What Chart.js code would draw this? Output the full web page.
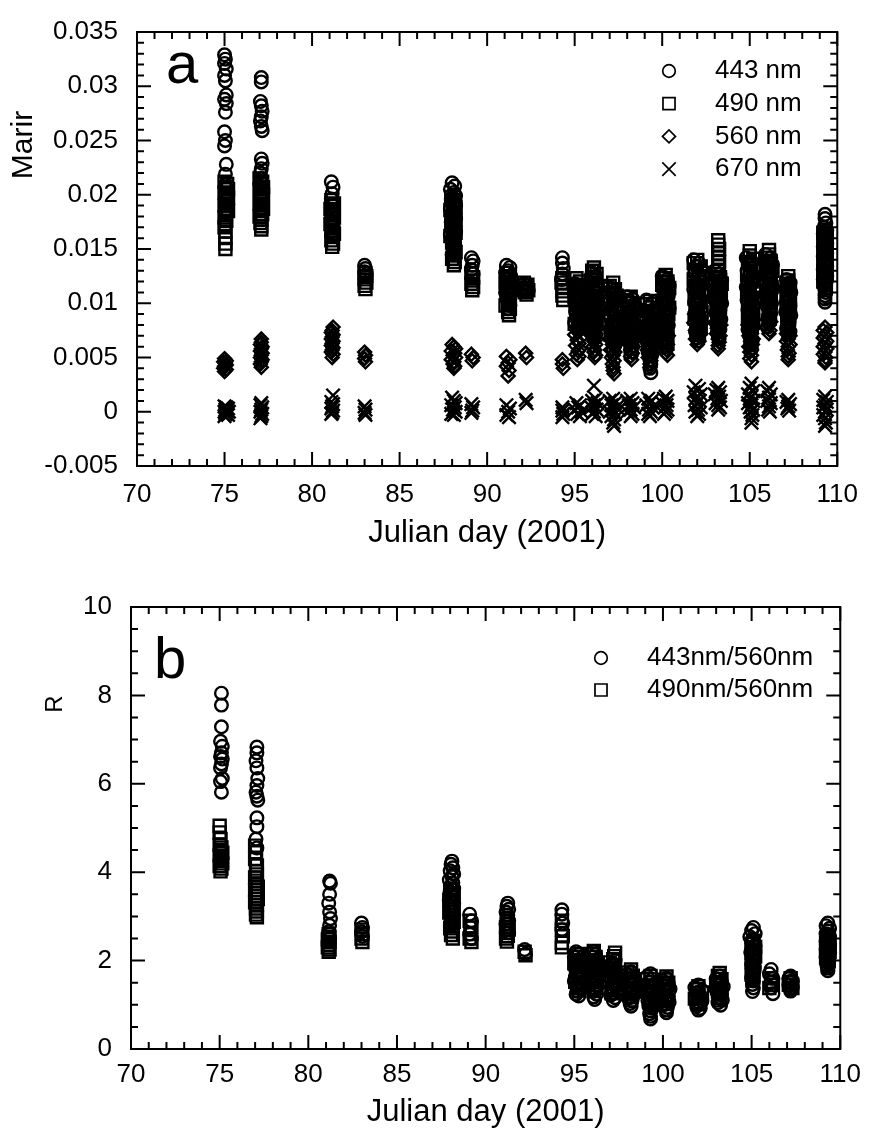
<!DOCTYPE html>
<html>
<head>
<meta charset="utf-8">
<title>Julian day scatter</title>
<script src="https://cdn.jsdelivr.net/npm/chart.js@4.4.1/dist/chart.umd.min.js"></script>
<style>
  html, body { margin: 0; padding: 0; background: #fff; }
  canvas { display: block; }
</style>
</head>
<body>
<canvas id="chartA" width="874" height="575"></canvas>
<canvas id="chartB" width="874" height="558"></canvas>
<script>
/* ================================
   Data
   ================================ */
const xTicks = [70, 75, 80, 85, 90, 95, 100, 105, 110];
const xTickLabels = ["70", "75", "80", "85", "90", "95", "100", "105", "110"];
const aYTicks = [-0.005, 0, 0.005, 0.01, 0.015, 0.02, 0.025, 0.03, 0.035];
const aYLabels = ["-0.005", "0", "0.005", "0.01", "0.015", "0.02", "0.025", "0.03", "0.035"];
const bYTicks = [0, 2, 4, 6, 8, 10];
const bYLabels = ["0", "2", "4", "6", "8", "10"];

const aLabels = ["443 nm", "490 nm", "560 nm", "670 nm"];
const bLabels = ["443nm/560nm", "490nm/560nm"];

// panel a, [julian day, value]
const m443 = [
  [75.0,.0329],[75.05,.0325],[75.0,.0321],[75.1,.0316],[75.0,.031],[75.05,.0305],[75.1,.0292],[75.0,.0288],
  [75.1,.0284],[75.05,.0276],[75.0,.0258],[75.05,.025],[75.0,.0245],[75.1,.0228],[75.05,.0219],
  [77.1,.0308],[77.1,.0304],[77.05,.0286],[77.1,.0282],[77.15,.0277],[77.1,.0272],[77.05,.0268],[77.1,.0263],
  [77.15,.0259],[77.1,.0233],[77.15,.0229],[77.1,.0224],[77.05,.022],[77.1,.0215],
  [81.1,.0212],[81.2,.0207],[81.15,.0201],[81.1,.0196],[81.2,.019],[81.15,.0183],[81.1,.0177],[81.2,.0171],[81.15,.0166],
  [83.0,.0135],[83.05,.0132],[83.0,.0129],[83.1,.0127],[83.05,.0125],
  [88.0,.0211],[88.15,.0208],[87.9,.0205],[88.1,.0202],[88.2,.0199],[87.95,.0196],[88.05,.0193],[88.2,.019],
  [87.9,.0187],[88.1,.0184],[88.0,.0181],[88.2,.0178],[87.95,.0175],[88.1,.0172],[88.05,.0169],[88.2,.0166],
  [87.9,.0163],[88.1,.016],[88.0,.0157],[88.15,.0154],[88.05,.0151],[88.1,.0148],[88.0,.0145],
  [89.1,.0142],[89.2,.0139],[89.15,.0135],[89.1,.0131],[89.2,.0127],
  [91.1,.0135],[91.3,.0133],[91.2,.013],[91.05,.0128],[91.35,.0125],[91.15,.0123],[91.25,.012],[91.1,.0118],
  [91.3,.0115],[91.2,.0113],[91.05,.011],[91.35,.0108],[91.15,.0105],[91.25,.0103],[91.2,.01],[91.3,.0098],[91.2,.0095],
  [92.1,.0118],[92.3,.0116],[92.2,.0114],[92.35,.0112],[92.15,.0111],
  [94.3,.0142],[94.3,.0137],[94.35,.0132],[94.3,.0127],[94.25,.0122],
  [95.0,.0118],[95.3,.0116],[95.15,.0114],[95.4,.0112],[95.05,.011],[95.25,.0108],[95.35,.0106],[95.1,.0104],
  [95.2,.0102],[95.0,.01],[95.4,.0098],[95.15,.0096],[95.3,.0094],[95.05,.0092],[95.25,.009],[95.35,.0088],
  [95.1,.0086],[95.2,.0084],[95.0,.0082],[95.3,.008],[95.15,.0078],[95.25,.0076],
  [96.0,.0128],[96.2,.0125],[96.1,.0122],[95.9,.0119],[96.3,.0116],[96.05,.0113],[96.2,.011],[95.95,.0107],
  [96.25,.0104],[96.1,.0101],[96.0,.0098],[96.3,.0095],[96.15,.0092],[95.9,.0089],[96.2,.0086],[96.05,.0083],
  [96.25,.008],[96.1,.0077],[96.0,.0074],[96.2,.0071],[96.1,.0068],
  [97.0,.0115],[97.3,.0112],[97.15,.0109],[97.4,.0106],[97.05,.0103],[97.25,.01],[97.35,.0097],[97.1,.0094],
  [97.2,.0091],[97.0,.0088],[97.4,.0085],[97.15,.0082],[97.3,.0079],[97.05,.0076],[97.25,.0073],[97.35,.007],
  [97.1,.0067],[97.2,.0064],[97.3,.0061],[97.2,.0058],
  [98.0,.0106],[98.3,.0104],[98.15,.0101],[98.4,.0099],[98.05,.0096],[98.25,.0094],[98.35,.0091],[98.1,.0089],
  [98.2,.0086],[98.0,.0084],[98.4,.0081],[98.15,.0079],[98.3,.0076],[98.05,.0074],[98.25,.0071],[98.2,.0068],[98.1,.0066],
  [99.1,.0103],[99.4,.01],[99.25,.0097],[99.5,.0094],[99.15,.0091],[99.35,.0088],[99.45,.0085],[99.2,.0082],
  [99.3,.0079],[99.1,.0076],[99.5,.0073],[99.25,.007],[99.4,.0067],[99.15,.0064],[99.35,.0061],[99.3,.0058],
  [99.2,.0055],[99.4,.0052],[99.3,.0048],[99.35,.0044],[99.3,.004],[99.35,.0036],
  [100.0,.0125],[100.3,.0122],[100.15,.0119],[100.4,.0116],[100.05,.0113],[100.25,.011],[100.35,.0107],[100.1,.0104],
  [100.2,.0101],[100.0,.0098],[100.4,.0095],[100.15,.0092],[100.3,.0089],[100.05,.0086],[100.25,.0083],[100.35,.008],
  [100.1,.0077],[100.2,.0074],[100.3,.0071],[100.2,.0068],[100.25,.0064],[100.2,.006],
  [101.8,.014],[102.1,.0137],[101.95,.0134],[102.25,.0131],[101.85,.0128],[102.05,.0125],[102.2,.0122],[101.9,.0119],
  [102.1,.0116],[101.8,.0113],[102.25,.011],[102.0,.0107],[102.15,.0104],[101.85,.0101],[102.05,.0098],[102.2,.0095],
  [101.9,.0092],[102.1,.0089],[101.95,.0086],[102.25,.0083],[102.0,.008],[102.15,.0077],[101.9,.0074],[102.1,.0071],
  [102.0,.0068],[102.05,.0065],
  [103.0,.013],[103.3,.0127],[103.15,.0124],[103.4,.0121],[103.05,.0118],[103.25,.0115],[103.35,.0112],[103.1,.0109],
  [103.2,.0106],[103.0,.0103],[103.4,.01],[103.15,.0097],[103.3,.0094],[103.05,.0091],[103.25,.0088],[103.35,.0085],
  [103.1,.0082],[103.2,.0079],[103.3,.0076],[103.15,.0073],[103.2,.007],[103.25,.0067],
  [104.8,.0142],[105.1,.0139],[104.95,.0136],[105.25,.0133],[104.85,.013],[105.05,.0127],[105.2,.0124],[104.9,.0121],
  [105.1,.0118],[104.8,.0115],[105.25,.0112],[105.0,.0109],[105.15,.0106],[104.85,.0103],[105.05,.01],[105.2,.0097],
  [104.9,.0094],[105.1,.0091],[104.95,.0088],[105.2,.0085],[105.0,.0082],[105.15,.0079],[104.9,.0076],[105.1,.0073],
  [105.0,.007],[105.15,.0066],[105.05,.0062],[105.1,.0058],
  [105.9,.0145],[106.2,.0142],[106.05,.0139],[106.3,.0136],[105.95,.0133],[106.15,.013],[106.25,.0127],[106.0,.0124],
  [106.1,.0121],[105.9,.0118],[106.3,.0115],[106.05,.0112],[106.2,.0109],[105.95,.0106],[106.15,.0103],[106.25,.01],
  [106.0,.0097],[106.1,.0094],[106.2,.0091],[106.05,.0088],[106.15,.0085],[106.1,.0082],[106.0,.0078],
  [107.1,.0122],[107.3,.0119],[107.2,.0116],[107.05,.0113],[107.35,.011],[107.15,.0107],[107.25,.0104],[107.1,.0101],
  [107.3,.0098],[107.2,.0095],[107.05,.0092],[107.35,.0089],[107.15,.0086],[107.25,.0083],[107.2,.008],[107.1,.0077],
  [107.3,.0074],[107.2,.0071],
  [109.3,.0182],[109.3,.0178],[109.35,.0174],[109.25,.017],[109.4,.0167],[109.2,.0164],[109.35,.0161],[109.25,.0158],
  [109.4,.0155],[109.2,.0152],[109.3,.0149],[109.4,.0146],[109.2,.0143],[109.35,.014],[109.25,.0137],[109.4,.0134],
  [109.2,.0131],[109.3,.0128],[109.4,.0125],[109.2,.0122],[109.35,.0119],[109.25,.0116],[109.3,.0113],[109.35,.011],
  [109.3,.0107],[109.3,.0104],[109.3,.0101]
];

const m490 = [
  [75.0,.0212],[75.15,.021],[75.05,.0207],[75.2,.0205],[75.0,.0202],[75.1,.02],[75.2,.0197],[75.05,.0195],
  [75.15,.0192],[75.0,.019],[75.1,.0187],[75.2,.0185],[75.05,.0182],[75.0,.0179],[75.1,.0176],[75.05,.0173],
  [75.0,.017],[75.05,.0166],[75.05,.016],[75.05,.0155],[75.05,.015],
  [77.0,.0215],[77.15,.0212],[77.05,.021],[77.2,.0207],[77.0,.0205],[77.1,.0202],[77.2,.02],[77.05,.0197],
  [77.15,.0195],[77.0,.0192],[77.1,.019],[77.2,.0187],[77.05,.0185],[77.15,.0182],[77.0,.018],[77.1,.0177],
  [77.05,.0174],[77.1,.0171],[77.1,.0168],
  [81.1,.0195],[81.25,.0192],[81.15,.019],[81.05,.0187],[81.2,.0185],[81.1,.0182],[81.25,.0179],[81.15,.0176],
  [81.05,.0173],[81.2,.017],[81.1,.0167],[81.25,.0164],[81.15,.0161],[81.1,.0158],[81.2,.0155],[81.15,.0152],
  [83.0,.0128],[83.1,.0125],[83.0,.0122],[83.1,.0119],[83.0,.0116],[83.05,.0113],
  [87.95,.0198],[88.15,.0195],[88.05,.0192],[88.2,.0189],[87.9,.0186],[88.1,.0183],[88.0,.018],[88.2,.0177],
  [87.95,.0174],[88.1,.0171],[88.05,.0168],[88.2,.0165],[87.9,.0162],[88.1,.0159],[88.0,.0156],[88.15,.0153],
  [88.05,.015],[88.2,.0147],[88.1,.0144],[88.0,.0141],[88.15,.0138],[88.1,.0135],
  [89.1,.0128],[89.2,.0124],[89.15,.0121],[89.1,.0118],[89.2,.0115],[89.15,.0112],
  [91.1,.0128],[91.3,.0125],[91.2,.0122],[91.05,.0119],[91.35,.0116],[91.15,.0113],[91.25,.011],[91.1,.0107],
  [91.3,.0104],[91.2,.0101],[91.05,.0098],[91.3,.0095],[91.2,.0092],[91.25,.0089],
  [92.1,.0119],[92.3,.0117],[92.2,.0114],[92.35,.0112],[92.15,.011],[92.25,.0108],
  [94.3,.0123],[94.25,.0119],[94.35,.0115],[94.3,.0111],[94.3,.0107],[94.35,.0103],
  [95.1,.0123],[95.3,.012],[95.2,.0117],[95.4,.0114],[95.0,.0111],[95.3,.0108],[95.15,.0105],[95.35,.0102],
  [95.05,.0099],[95.25,.0096],[95.4,.0093],[95.1,.009],[95.3,.0087],[95.2,.0084],[95.0,.0081],[95.3,.0078],
  [96.1,.0133],[96.0,.013],[96.25,.0127],[96.1,.0124],[95.95,.0121],[96.2,.0118],[96.05,.0115],[96.3,.0112],
  [96.1,.0109],[95.9,.0106],[96.2,.0103],[96.0,.01],[96.3,.0097],[96.15,.0094],[96.05,.0091],[96.25,.0088],
  [96.1,.0085],[96.2,.0082],[96.0,.0079],[96.15,.0075],
  [97.2,.0119],[97.0,.0116],[97.3,.0113],[97.1,.011],[97.4,.0107],[97.2,.0104],[97.0,.0101],[97.3,.0098],
  [97.15,.0095],[97.35,.0092],[97.05,.0089],[97.25,.0086],[97.4,.0083],[97.1,.008],[97.3,.0077],[97.2,.0074],
  [97.05,.0071],[97.3,.0068],[97.2,.0065],
  [98.2,.0106],[98.0,.0103],[98.3,.01],[98.1,.0097],[98.4,.0094],[98.2,.0091],[98.0,.0088],[98.3,.0085],
  [98.15,.0082],[98.35,.0079],[98.05,.0076],[98.25,.0073],[98.4,.007],[98.1,.0067],[98.3,.0064],[98.2,.0061],
  [98.25,.0058],[98.2,.0055],
  [99.3,.0102],[99.1,.0099],[99.4,.0096],[99.2,.0093],[99.5,.009],[99.3,.0087],[99.1,.0084],[99.4,.0081],
  [99.25,.0078],[99.45,.0075],[99.15,.0072],[99.35,.0069],[99.5,.0066],[99.2,.0063],[99.4,.006],[99.3,.0057],
  [100.2,.0126],[100.1,.0123],[100.3,.012],[100.0,.0117],[100.4,.0114],[100.2,.0111],[100.1,.0108],[100.3,.0105],
  [100.0,.0102],[100.25,.0099],[100.4,.0096],[100.15,.0093],[100.35,.009],[100.05,.0087],[100.25,.0084],[100.15,.0081],
  [100.3,.0078],[100.2,.0075],[100.25,.0071],[100.2,.0067],[100.3,.0063],
  [102.0,.014],[101.8,.0137],[102.2,.0134],[101.9,.0131],[102.3,.0128],[102.1,.0125],[101.8,.0122],[102.2,.0119],
  [102.0,.0116],[101.9,.0113],[102.3,.011],[102.1,.0107],[101.85,.0104],[102.2,.0101],[102.0,.0098],[101.9,.0095],
  [102.25,.0092],[102.05,.0089],[101.85,.0086],[102.15,.0083],[102.0,.008],[102.2,.0077],[101.95,.0074],[102.1,.0071],
  [103.2,.0158],[103.2,.0154],[103.25,.015],[103.2,.0146],[103.2,.0142],[103.25,.0138],[103.2,.0134],[103.2,.013],
  [103.1,.0127],[103.3,.0124],[103.0,.0121],[103.4,.0118],[103.2,.0115],[103.1,.0112],[103.3,.0109],[103.05,.0106],
  [103.35,.0103],[103.15,.01],[103.25,.0097],[103.1,.0094],[103.3,.0091],[103.2,.0088],[103.15,.0085],[103.25,.0082],
  [103.2,.0079],[103.2,.0075],
  [105.0,.0148],[105.0,.0144],[105.2,.0141],[104.9,.0138],[105.1,.0135],[105.3,.0132],[105.0,.0129],[104.85,.0126],
  [105.2,.0123],[105.1,.012],[104.9,.0117],[105.25,.0114],[105.0,.0111],[104.85,.0108],[105.15,.0105],[105.05,.0102],
  [104.9,.0099],[105.2,.0096],[105.0,.0093],[105.1,.009],[104.9,.0087],[105.2,.0084],[105.0,.0081],[105.1,.0078],
  [105.0,.0074],[105.05,.007],
  [106.1,.0149],[106.1,.0145],[106.0,.0142],[106.2,.0139],[106.1,.0136],[106.0,.0133],[106.3,.013],[106.1,.0127],
  [106.2,.0124],[105.95,.0121],[106.15,.0118],[106.25,.0115],[106.05,.0112],[106.2,.0109],[106.1,.0106],[106.0,.0103],
  [106.2,.01],[106.1,.0097],[106.15,.0094],[106.1,.009],[106.15,.0086],
  [107.2,.0125],[107.2,.0121],[107.1,.0118],[107.3,.0115],[107.2,.0112],[107.1,.0109],[107.3,.0106],[107.15,.0103],
  [107.25,.01],[107.1,.0097],[107.3,.0094],[107.2,.0091],[107.15,.0088],[107.25,.0085],[107.2,.0082],[107.15,.0079],[107.2,.0075],
  [109.3,.0168],[109.2,.0165],[109.4,.0162],[109.3,.0159],[109.2,.0156],[109.4,.0153],[109.3,.015],[109.2,.0147],
  [109.4,.0144],[109.3,.0141],[109.2,.0138],[109.4,.0135],[109.3,.0132],[109.2,.0129],[109.4,.0126],[109.3,.0123],
  [109.2,.012],[109.35,.0117],[109.3,.0114]
];

const m560 = [
  [75.0,.0049],[75.1,.0047],[74.95,.0046],[75.05,.0045],[75.1,.0043],[75.0,.0042],[74.95,.004],[75.1,.0039],[75.0,.0037],
  [77.1,.0067],[77.1,.0064],[77.05,.0062],[77.15,.006],[77.1,.0058],[77.05,.0056],[77.15,.0054],[77.1,.0052],
  [77.05,.005],[77.15,.0048],[77.1,.0046],[77.05,.0044],[77.1,.0041],
  [81.2,.0078],[81.15,.0075],[81.1,.0073],[81.2,.0071],[81.15,.0069],[81.1,.0067],[81.2,.0065],[81.15,.0063],
  [81.1,.0061],[81.2,.0059],[81.15,.0057],[81.1,.0055],[81.2,.0053],[81.15,.005],
  [83.0,.0055],[83.05,.0052],[83.0,.0049],[83.05,.0046],
  [88.0,.0062],[88.1,.006],[88.2,.0058],[87.95,.0056],[88.15,.0054],[88.05,.0052],[88.2,.005],[87.95,.0048],
  [88.1,.0046],[88.05,.0044],[88.15,.0042],[88.1,.004],
  [89.1,.0053],[89.2,.005],[89.15,.0047],
  [91.1,.0051],[91.3,.0048],[91.2,.0045],[91.1,.0042],[91.25,.0038],[91.2,.0033],
  [92.2,.0054],[92.25,.005],
  [94.3,.0048],[94.3,.0044],[94.35,.004],
  [95.1,.0078],[95.3,.0076],[95.2,.0073],[95.0,.0071],[95.35,.0068],[95.15,.0066],[95.25,.0063],[95.05,.0061],
  [95.3,.0058],[95.2,.0056],[95.1,.0053],[95.25,.0051],[95.15,.0048],
  [96.1,.0085],[96.2,.0082],[96.0,.008],[96.3,.0077],[96.1,.0075],[96.2,.0072],[96.0,.007],[96.25,.0067],
  [96.1,.0065],[96.2,.0062],[96.05,.006],[96.15,.0057],[96.1,.0055],[96.2,.0052],[96.15,.005],
  [97.1,.0075],[97.3,.0072],[97.2,.007],[97.0,.0067],[97.35,.0065],[97.15,.0062],[97.25,.006],[97.05,.0057],
  [97.3,.0055],[97.2,.0052],[97.1,.005],[97.25,.0047],[97.15,.0044],[97.2,.0041],[97.2,.0038],[97.25,.0035],
  [98.2,.0082],[98.0,.008],[98.3,.0077],[98.1,.0075],[98.4,.0072],[98.2,.007],[98.05,.0067],[98.3,.0065],
  [98.15,.0062],[98.35,.006],[98.2,.0057],[98.3,.0054],[98.2,.0051],[98.25,.0048],
  [99.2,.0075],[99.4,.0072],[99.3,.007],[99.1,.0067],[99.45,.0065],[99.25,.0062],[99.35,.006],[99.15,.0057],
  [99.4,.0055],[99.3,.0052],[99.2,.005],[99.35,.0047],[99.3,.0044],[99.3,.0041],
  [100.2,.0085],[100.1,.0082],[100.3,.008],[100.0,.0077],[100.25,.0075],[100.15,.0072],[100.35,.007],[100.05,.0067],
  [100.2,.0065],[100.3,.0062],[100.15,.006],[100.25,.0057],[100.2,.0054],[100.3,.0052],
  [102.0,.0092],[101.85,.009],[102.2,.0087],[102.0,.0085],[101.8,.0082],[102.15,.008],[102.0,.0077],[101.9,.0075],
  [102.2,.0072],[102.05,.007],[101.9,.0067],[102.1,.0065],[102.0,.0062],
  [103.2,.0092],[103.1,.009],[103.3,.0087],[103.2,.0085],[103.0,.0082],[103.35,.008],[103.15,.0077],[103.25,.0075],
  [103.1,.0072],[103.3,.007],[103.2,.0067],[103.25,.0064],[103.2,.0061],[103.2,.0058],
  [105.0,.0085],[105.1,.0082],[104.9,.008],[105.2,.0077],[105.0,.0075],[105.1,.0072],[104.95,.007],[105.2,.0067],
  [105.05,.0065],[105.15,.0062],[104.95,.006],[105.1,.0057],[105.0,.0055],[105.1,.0052],[105.0,.0049],[105.1,.0046],
  [106.1,.0088],[106.0,.0085],[106.2,.0083],[106.1,.008],[106.0,.0078],[106.15,.0075],[106.1,.0072],
  [107.2,.0075],[107.1,.0072],[107.3,.007],[107.2,.0067],[107.1,.0065],[107.3,.0062],[107.2,.006],[107.15,.0057],
  [107.25,.0054],[107.2,.0051],[107.2,.0048],
  [109.3,.0078],[109.2,.0075],[109.4,.0073],[109.3,.007],[109.2,.0068],[109.4,.0065],[109.3,.0063],[109.2,.006],
  [109.4,.0058],[109.3,.0055],[109.2,.0053],[109.35,.005],[109.3,.0047],[109.3,.0045]
];

const m670 = [
  [75.0,.0005],[75.1,.0004],[75.2,.0003],[75.05,.0002],[75.15,.0001],[75.0,0],[75.25,0],[75.1,-.0001],
  [75.05,-.0002],[75.2,-.0003],[75.0,-.0004],
  [77.1,.0008],[77.05,.0006],[77.15,.0004],[77.1,.0002],[77.05,0],[77.15,-.0002],[77.1,-.0004],[77.05,-.0006],
  [81.2,.0015],[81.1,.0009],[81.2,.0007],[81.15,.0005],[81.1,.0003],[81.2,.0001],[81.15,-.0001],[81.1,-.0002],
  [83.0,.0005],[83.05,.0002],[83.0,-.0001],[83.05,-.0003],
  [88.0,.0013],[88.1,.001],[88.2,.0008],[87.95,.0006],[88.15,.0004],[88.05,.0002],[88.2,0],[87.95,-.0002],[88.1,-.0003],
  [89.1,.0007],[89.2,.0004],[89.15,.0001],[89.1,-.0001],
  [91.1,.0006],[91.3,.0003],[91.2,0],[91.1,-.0003],[91.25,-.0005],
  [92.2,.0011],[92.25,.0008],
  [94.3,.0004],[94.3,.0001],[94.35,-.0002],[94.3,-.0005],
  [95.1,.0008],[95.3,.0006],[95.2,.0004],[95.0,.0002],[95.4,0],[95.15,-.0002],[95.3,-.0004],
  [96.1,.0024],[96.2,.0012],[96.0,.001],[96.3,.0008],[96.1,.0006],[95.95,.0004],[96.25,.0002],[96.1,0],[96.0,-.0002],[96.2,-.0004],
  [97.2,.0012],[97.0,.001],[97.3,.0008],[97.1,.0006],[97.4,.0004],[97.2,.0002],[97.0,0],[97.3,-.0002],
  [97.1,-.0004],[97.25,-.0007],[97.2,-.001],[97.25,-.0013],
  [98.2,.0012],[98.0,.001],[98.3,.0008],[98.1,.0006],[98.4,.0004],[98.2,.0002],[98.0,0],[98.3,-.0002],[98.2,-.0004],
  [99.2,.0012],[99.4,.001],[99.3,.0008],[99.1,.0006],[99.45,.0004],[99.25,.0002],[99.35,0],[99.2,-.0002],[99.3,-.0004],
  [100.2,.0014],[100.1,.0012],[100.3,.001],[100.0,.0008],[100.25,.0006],[100.15,.0004],[100.3,.0002],[100.2,0],[100.1,-.0002],
  [101.9,.0024],[102.1,.0021],[101.8,.0018],[102.2,.0016],[102.0,.0014],[101.9,.0012],[102.15,.001],[102.0,.0008],
  [101.85,.0006],[102.2,.0004],[102.05,.0002],[101.9,0],[102.1,-.0002],[102.0,-.0004],
  [103.2,.0022],[103.1,.002],[103.3,.0018],[103.0,.0016],[103.25,.0014],[103.15,.0012],[103.35,.001],[103.05,.0008],
  [103.2,.0006],[103.3,.0004],[103.2,.0002],
  [105.1,.0026],[105.0,.0022],[105.2,.0019],[104.9,.0016],[105.1,.0014],[105.0,.0012],[105.2,.001],[104.9,.0008],
  [105.1,.0006],[105.0,.0004],[105.2,.0002],[105.05,0],[105.15,-.0003],[105.1,-.0006],[105.1,-.001],
  [106.1,.0022],[106.0,.0019],[106.2,.0016],[106.1,.0013],[106.0,.001],[106.2,.0008],[106.1,.0005],[106.05,.0002],[106.15,0],
  [107.2,.0011],[107.1,.0009],[107.3,.0007],[107.2,.0005],[107.15,.0003],[107.25,.0001],
  [109.3,.0014],[109.2,.0011],[109.4,.0009],[109.3,.0006],[109.2,.0004],[109.4,.0002],[109.3,0],[109.2,-.0003],
  [109.3,-.0006],[109.35,-.001],[109.3,-.0013]
];

// panel b, [julian day, ratio]
const r443 = [
  [75.1,8.05],[75.1,7.78],[75.1,7.29],[75.05,6.96],[75.15,6.85],[75.1,6.7],[75.05,6.62],[75.15,6.56],[75.1,6.45],
  [75.05,6.36],[75.15,6.12],[75.05,6.05],[75.1,5.81],
  [77.1,6.83],[77.1,6.7],[77.05,6.52],[77.1,6.36],[77.15,6.12],[77.1,5.96],[77.05,5.81],[77.1,5.72],[77.15,5.63],
  [77.1,5.23],[77.1,5.03],[77.05,4.75],[77.1,4.55],
  [81.2,3.8],[81.25,3.75],[81.2,3.5],[81.15,3.3],[81.2,3.1],[81.25,2.95],[81.2,2.8],[81.15,2.65],[81.2,2.5],
  [83.0,2.85],[83.05,2.75],[83.0,2.65],[83.05,2.55],
  [88.1,4.25],[88.05,4.18],[88.15,4.1],[88.0,4.03],[88.2,3.96],[88.1,3.9],[87.95,3.83],[88.15,3.76],[88.05,3.7],
  [88.2,3.63],[88.0,3.56],[88.1,3.5],[88.15,3.43],[87.95,3.36],[88.2,3.3],[88.05,3.23],[88.1,3.16],[88.0,3.1],
  [88.2,3.03],[88.1,2.96],[88.05,2.9],[88.15,2.84],
  [89.1,3.05],[89.2,2.9],[89.15,2.75],[89.1,2.6],[89.2,2.5],
  [91.25,3.3],[91.2,3.23],[91.3,3.16],[91.15,3.1],[91.25,3.03],[91.2,2.96],[91.3,2.9],[91.15,2.83],[91.25,2.76],
  [91.2,2.7],[91.3,2.63],
  [92.2,2.25],[92.25,2.15],
  [94.3,3.15],[94.3,3.05],[94.35,2.85],[94.3,2.7],
  [95.1,2.2],[95.25,2.14],[95.0,2.08],[95.35,2.02],[95.15,1.96],[95.3,1.9],[95.05,1.84],[95.2,1.78],[95.4,1.72],
  [95.1,1.66],[95.3,1.6],[95.0,1.54],[95.25,1.48],[95.15,1.42],[95.35,1.36],[95.2,1.3],[95.1,1.24],[95.25,1.2],
  [96.1,2.2],[96.2,2.14],[96.0,2.08],[96.3,2.02],[96.1,1.96],[96.25,1.9],[95.95,1.84],[96.15,1.78],[96.3,1.72],
  [96.05,1.66],[96.2,1.6],[96.1,1.54],[96.0,1.48],[96.3,1.42],[96.15,1.36],[96.05,1.3],[96.25,1.24],[96.1,1.18],[96.15,1.12],
  [97.3,2.0],[97.1,1.94],[97.2,1.88],[97.0,1.82],[97.35,1.76],[97.15,1.7],[97.25,1.64],[97.05,1.58],[97.3,1.52],
  [97.2,1.46],[97.1,1.4],[97.4,1.34],[97.2,1.28],[97.05,1.22],[97.3,1.16],[97.2,1.1],
  [98.2,1.75],[98.0,1.69],[98.3,1.63],[98.1,1.57],[98.4,1.51],[98.2,1.45],[98.05,1.39],[98.3,1.33],[98.15,1.27],
  [98.35,1.21],[98.05,1.15],[98.25,1.09],[98.15,1.03],[98.2,0.97],
  [99.3,1.7],[99.1,1.64],[99.4,1.58],[99.2,1.52],[99.5,1.46],[99.3,1.4],[99.1,1.34],[99.4,1.28],[99.25,1.22],
  [99.45,1.16],[99.15,1.1],[99.35,1.04],[99.2,0.98],[99.4,0.92],[99.3,0.86],[99.25,0.8],[99.3,0.74],[99.3,0.68],
  [100.2,1.6],[100.0,1.54],[100.3,1.48],[100.1,1.42],[100.4,1.36],[100.2,1.3],[100.05,1.24],[100.3,1.18],
  [100.15,1.12],[100.35,1.06],[100.05,1.0],[100.25,0.94],[100.2,0.88],[100.2,0.82],
  [102.0,1.45],[101.8,1.39],[102.2,1.33],[101.9,1.27],[102.1,1.21],[101.85,1.15],[102.2,1.09],[102.0,1.03],
  [101.9,0.97],[102.1,0.92],[102.0,0.88],
  [103.2,1.65],[103.0,1.59],[103.3,1.53],[103.1,1.47],[103.4,1.41],[103.2,1.35],[103.05,1.29],[103.3,1.23],
  [103.15,1.17],[103.35,1.11],[103.1,1.05],[103.25,0.99],
  [105.1,2.75],[105.0,2.68],[105.2,2.61],[104.9,2.54],[105.1,2.47],[105.0,2.4],[105.2,2.33],[105.05,2.26],
  [104.95,2.19],[105.15,2.12],[105.05,2.05],[105.1,1.98],[105.0,1.91],[105.15,1.84],[105.05,1.77],[105.1,1.7],
  [105.0,1.62],[105.1,1.54],[105.05,1.46],[105.1,1.38],[105.05,1.3],
  [106.1,1.8],[106.0,1.7],[106.2,1.6],[106.1,1.5],[106.1,1.38],[106.2,1.25],
  [107.2,1.65],[107.1,1.6],[107.3,1.55],[107.2,1.5],[107.1,1.45],[107.3,1.4],[107.2,1.35],[107.2,1.31],
  [109.3,2.85],[109.2,2.79],[109.4,2.73],[109.3,2.67],[109.2,2.61],[109.4,2.55],[109.3,2.49],[109.2,2.43],
  [109.4,2.37],[109.3,2.31],[109.2,2.25],[109.4,2.19],[109.3,2.13],[109.2,2.07],[109.35,2.01],[109.3,1.95],
  [109.25,1.89],[109.3,1.83],[109.3,1.77]
];

const r490 = [
  [75.0,5.05],[75.0,4.9],[75.05,4.75],[75.0,4.62],[75.1,4.56],[75.05,4.5],[75.15,4.44],[75.0,4.38],[75.1,4.32],
  [75.05,4.26],[75.15,4.2],[75.0,4.14],[75.1,4.08],[75.05,4.02],
  [77.0,4.6],[77.05,4.45],[77.0,4.3],[77.1,4.15],[77.05,4.02],[77.1,3.95],[77.0,3.88],[77.1,3.81],[77.05,3.74],
  [77.15,3.67],[77.0,3.6],[77.1,3.53],[77.05,3.46],[77.15,3.39],[77.0,3.32],[77.1,3.25],[77.05,3.18],[77.1,3.11],
  [77.05,3.04],[77.1,2.98],
  [81.15,2.6],[81.2,2.54],[81.1,2.48],[81.2,2.42],[81.15,2.36],[81.1,2.3],[81.2,2.25],[81.15,2.2],
  [83.0,2.7],[83.05,2.6],[83.0,2.5],[83.05,2.42],
  [88.0,3.6],[88.1,3.52],[88.2,3.45],[87.95,3.38],[88.15,3.3],[88.05,3.23],[88.2,3.16],[87.95,3.09],[88.1,3.02],
  [88.05,2.95],[88.2,2.88],[88.1,2.8],[88.0,2.73],[88.15,2.66],[88.05,2.58],[88.15,2.5],
  [89.1,2.9],[89.2,2.75],[89.15,2.6],[89.1,2.5],[89.2,2.42],
  [91.2,2.9],[91.25,2.83],[91.15,2.76],[91.3,2.7],[91.2,2.63],[91.25,2.56],[91.15,2.5],[91.2,2.43],
  [92.2,2.2],[92.25,2.12],
  [94.3,2.9],[94.3,2.7],[94.35,2.55],[94.3,2.4],[94.3,2.3],
  [95.2,2.15],[95.1,2.08],[95.3,2.01],[95.0,1.94],[95.2,1.87],[95.4,1.8],[95.1,1.73],[95.3,1.66],[95.2,1.59],
  [95.05,1.52],[95.35,1.45],[95.15,1.38],[95.25,1.32],
  [96.1,2.22],[96.0,2.15],[96.2,2.08],[96.1,2.01],[96.3,1.94],[96.0,1.87],[96.2,1.8],[96.1,1.73],[96.3,1.66],
  [96.05,1.59],[96.2,1.52],[96.1,1.45],[96.25,1.38],[96.1,1.31],
  [97.3,2.18],[97.25,2.1],[97.2,2.03],[97.0,1.96],[97.3,1.89],[97.1,1.82],[97.2,1.75],[97.0,1.68],[97.3,1.61],
  [97.1,1.54],[97.25,1.47],[97.15,1.4],[97.2,1.33],[97.1,1.26],
  [98.2,1.8],[98.0,1.73],[98.3,1.66],[98.1,1.59],[98.2,1.52],[98.0,1.45],[98.3,1.38],[98.1,1.31],[98.25,1.24],
  [98.15,1.17],[98.2,1.1],
  [99.3,1.65],[99.1,1.58],[99.4,1.51],[99.2,1.44],[99.3,1.37],[99.1,1.3],[99.4,1.23],[99.25,1.16],[99.35,1.09],[99.3,1.03],
  [100.2,1.64],[100.1,1.57],[100.3,1.5],[100.0,1.43],[100.2,1.36],[100.3,1.29],[100.1,1.22],[100.25,1.15],
  [100.15,1.08],[100.2,1.02],
  [102.0,1.42],[101.9,1.35],[102.2,1.28],[102.0,1.21],[101.8,1.14],[102.1,1.07],[101.95,1.01],
  [103.2,1.72],[103.1,1.65],[103.3,1.58],[103.2,1.51],[103.0,1.44],[103.3,1.37],[103.1,1.3],[103.25,1.23],
  [103.15,1.16],[103.2,1.1],
  [105.1,2.45],[105.0,2.38],[105.2,2.31],[105.1,2.24],[105.0,2.17],[105.2,2.1],[105.1,2.03],[105.0,1.96],
  [105.15,1.89],[105.05,1.82],[105.1,1.75],[105.0,1.68],[105.1,1.61],[105.05,1.55],
  [106.1,1.6],[106.1,1.52],[106.2,1.45],[106.0,1.38],
  [107.2,1.6],[107.2,1.52],[107.1,1.45],[107.3,1.38],
  [109.3,2.55],[109.2,2.48],[109.4,2.41],[109.3,2.34],[109.2,2.27],[109.4,2.2],[109.3,2.13],[109.2,2.06],
  [109.35,1.99],[109.3,1.92],[109.3,1.87]
];

/* ================================
   Helpers
   ================================ */
const FONT = "'Liberation Sans', Arial, Helvetica, sans-serif";
Chart.defaults.font.family = FONT;
Chart.defaults.color = "#000";

function toPoints(pairs) {
  return pairs.map(([x, y]) => ({ x, y }));
}

function series(label, pairs, style, radius) {
  return {
    label: label,
    data: toPoints(pairs),
    pointStyle: style,
    pointRadius: radius,
    pointHoverRadius: radius,
    pointBorderColor: "#000",
    pointBackgroundColor: "rgba(0,0,0,0)",
    pointBorderWidth: 2.4,
    showLine: false
  };
}

// frame + inward ticks on all four sides
const frameTicks = {
  id: "frameTicks",
  afterDatasetsDraw(chart, args, o) {
    const { ctx, chartArea: a, scales: { x, y } } = chart;
    ctx.save();
    ctx.strokeStyle = "#000";
    ctx.lineWidth = 2;
    ctx.beginPath();

    const nx = Math.round((x.max - x.min) / o.xMinor);
    for (let i = 0; i <= nx; i++) {
      const v = x.min + i * o.xMinor;
      const px = x.getPixelForValue(v);
      const len = Math.abs(v / o.xMajor - Math.round(v / o.xMajor)) < 1e-6 ? 14 : 7;
      ctx.moveTo(px, a.bottom); ctx.lineTo(px, a.bottom - len);
      ctx.moveTo(px, a.top); ctx.lineTo(px, a.top + len);
    }
    const ny = Math.round((y.max - y.min) / o.yMinor);
    for (let i = 0; i <= ny; i++) {
      const v = y.min + i * o.yMinor;
      const py = y.getPixelForValue(v);
      const len = Math.abs(v / o.yMajor - Math.round(v / o.yMajor)) < 1e-6 ? 14 : 7;
      ctx.moveTo(a.left, py); ctx.lineTo(a.left + len, py);
      ctx.moveTo(a.right, py); ctx.lineTo(a.right - len, py);
    }
    ctx.stroke();
    ctx.strokeRect(a.left, a.top, a.right - a.left, a.bottom - a.top);
    ctx.restore();
  }
};

// panel letter, y title, legend
const panelDecor = {
  id: "panelDecor",
  afterDraw(chart, args, o) {
    const ctx = chart.ctx;
    ctx.save();
    ctx.fillStyle = "#000";
    ctx.font = "58px " + FONT;
    ctx.textBaseline = "alphabetic";
    ctx.textAlign = "left";
    ctx.fillText(o.letter, o.letterX, o.letterY);

    ctx.save();
    ctx.translate(o.yTitleX, o.yTitleY);
    ctx.rotate(-Math.PI / 2);
    ctx.font = o.yTitleSize + "px " + FONT;
    ctx.textAlign = "center";
    ctx.textBaseline = "middle";
    ctx.fillText(o.yTitle, 0, 0);
    ctx.restore();

    ctx.font = "26px " + FONT;
    ctx.textBaseline = "middle";
    ctx.textAlign = "left";
    chart.data.datasets.forEach((ds, i) => {
      const ly = o.legendY + i * o.legendGap;
      ctx.fillStyle = "rgba(0,0,0,0)";
      ctx.strokeStyle = "#000";
      ctx.lineWidth = 1.7;
      Chart.helpers.drawPoint(ctx, {
        pointStyle: ds.pointStyle,
        radius: ds.pointRadius,
        rotation: 0,
        borderWidth: 1.7
      }, o.legendX, ly);
      ctx.fillStyle = "#000";
      ctx.fillText(ds.label, o.legendTextX, ly);
    });
    ctx.restore();
  }
};

function buildChart(id, cfg) {
  return new Chart(document.getElementById(id), {
    type: "scatter",
    data: { datasets: cfg.datasets },
    options: {
      responsive: false,
      animation: false,
      events: [],
      layout: { padding: cfg.padding },
      plugins: {
        legend: { display: false },
        tooltip: { enabled: false },
        frameTicks: cfg.ticks,
        panelDecor: cfg.decor
      },
      scales: {
        x: {
          type: "linear",
          min: 70,
          max: 110,
          afterFit: (s) => { s.height = cfg.xHeight; },
          afterBuildTicks: (s) => { s.ticks = xTicks.map((v) => ({ value: v })); },
          grid: { display: false, drawTicks: false },
          border: { display: false },
          ticks: {
            padding: cfg.xPad,
            autoSkip: false,
            maxRotation: 0,
            font: { size: 26, lineHeight: 1 },
            callback: (v, i) => xTickLabels[i]
          },
          title: {
            display: true,
            text: "Julian day (2001)",
            font: { size: 31, lineHeight: 1 },
            padding: { top: 0, bottom: cfg.titlePad }
          }
        },
        y: {
          type: "linear",
          min: cfg.yTicks[0],
          max: cfg.yTicks[cfg.yTicks.length - 1],
          afterFit: (s) => { s.width = cfg.yWidth; },
          afterBuildTicks: (s) => { s.ticks = cfg.yTicks.map((v) => ({ value: v })); },
          grid: { display: false, drawTicks: false },
          border: { display: false },
          ticks: {
            padding: 19,
            autoSkip: false,
            font: { size: 26, lineHeight: 1 },
            callback: (v, i) => cfg.yLabels[i]
          }
        }
      }
    },
    plugins: [frameTicks, panelDecor]
  });
}

/* ================================
   Panel a
   ================================ */
buildChart("chartA", {
  datasets: [
    series(aLabels[0], m443, "circle", 6.3),
    series(aLabels[1], m490, "rect", 8.5),
    series(aLabels[2], m560, "rectRot", 6.5),
    series(aLabels[3], m670, "crossRot", 9.5)
  ],
  padding: { left: 0, right: 25, top: 15, bottom: 0 },
  xHeight: 109,
  yWidth: 137,
  xPad: 16,
  titlePad: 26,
  yTicks: aYTicks,
  yLabels: aYLabels,
  ticks: { xMinor: 1, xMajor: 5, yMinor: 0.001, yMajor: 0.005 },
  decor: {
    letter: "a", letterX: 166, letterY: 83,
    yTitle: "Marir", yTitleX: 24, yTitleY: 145, yTitleSize: 30,
    legendX: 669, legendTextX: 715, legendY: 71, legendGap: 32.7
  }
});

/* ================================
   Panel b
   ================================ */
buildChart("chartB", {
  datasets: [
    series(bLabels[0], r443, "circle", 6.3),
    series(bLabels[1], r490, "rect", 8.5)
  ],
  padding: { left: 0, right: 32, top: 23, bottom: 0 },
  xHeight: 84,
  yWidth: 131,
  xPad: 13,
  titlePad: 5,
  yTicks: bYTicks,
  yLabels: bYLabels,
  ticks: { xMinor: 1, xMajor: 5, yMinor: 0.5, yMajor: 2 },
  decor: {
    letter: "b", letterX: 154, letterY: 103,
    yTitle: "R", yTitleX: 55, yTitleY: 129, yTitleSize: 24,
    legendX: 601, legendTextX: 647, legendY: 83, legendGap: 32
  }
});
</script>
</body>
</html>
